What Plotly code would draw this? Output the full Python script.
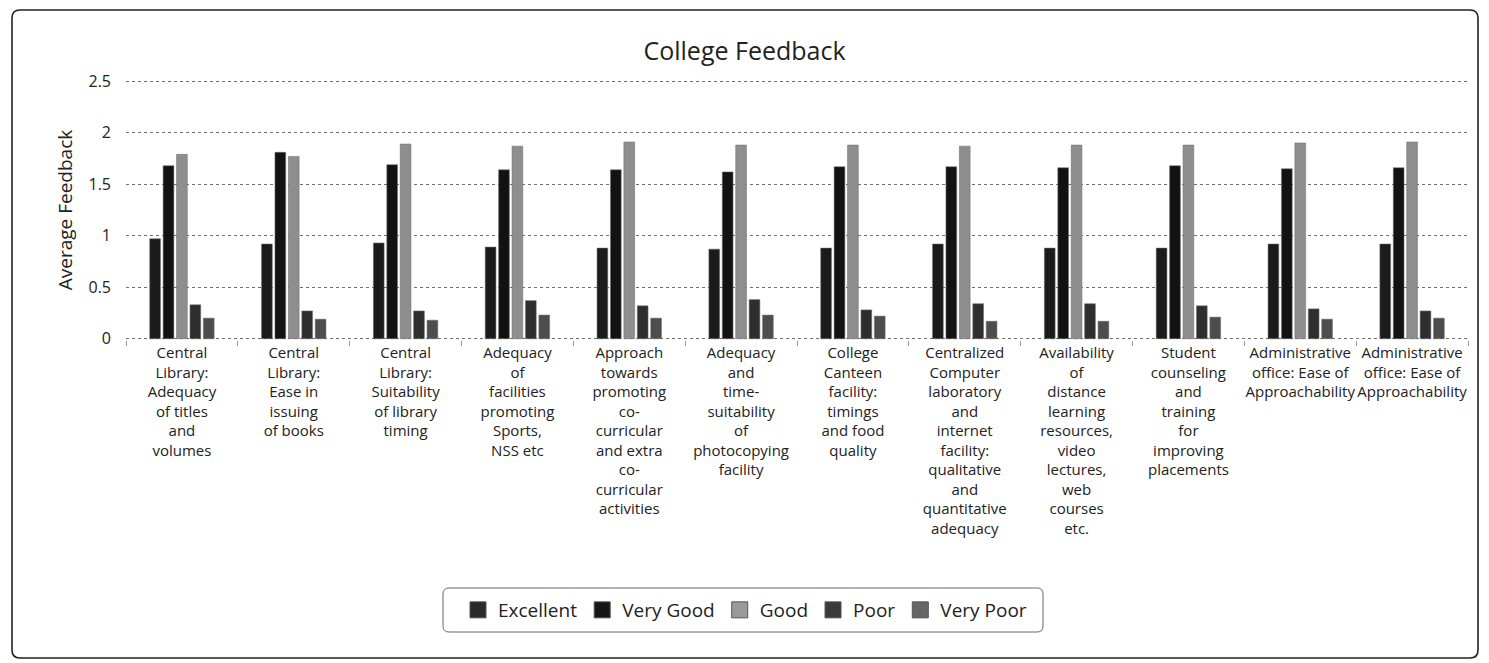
import plotly.graph_objects as go

# Survey items, as wrapped label lines under each group of bars
label_lines = [
    ["Central", "Library:", "Adequacy", "of titles", "and", "volumes"],
    ["Central", "Library:", "Ease in", "issuing", "of books"],
    ["Central", "Library:", "Suitability", "of library", "timing"],
    ["Adequacy", "of", "facilities", "promoting", "Sports,", "NSS etc"],
    ["Approach", "towards", "promoting", "co-", "curricular", "and extra", "co-",
     "curricular", "activities"],
    ["Adequacy", "and", "time-", "suitability", "of", "photocopying", "facility"],
    ["College", "Canteen", "facility:", "timings", "and food", "quality"],
    ["Centralized", "Computer", "laboratory", "and", "internet", "facility:",
     "qualitative", "and", "quantitative", "adequacy"],
    ["Availability", "of", "distance", "learning", "resources,", "video",
     "lectures,", "web", "courses", "etc."],
    ["Student", "counseling", "and", "training", "for", "improving", "placements"],
    ["Administrative", "office: Ease of", "Approachability"],
    ["Administrative", "office: Ease of", "Approachability"],
]
categories = [" ".join(lines) for lines in label_lines]

# Average feedback per rating class
excellent = [0.97, 0.92, 0.93, 0.89, 0.88, 0.87, 0.88, 0.92, 0.88, 0.88, 0.92, 0.92]
very_good = [1.68, 1.81, 1.69, 1.64, 1.64, 1.62, 1.67, 1.67, 1.66, 1.68, 1.65, 1.66]
good      = [1.79, 1.77, 1.89, 1.87, 1.91, 1.88, 1.88, 1.87, 1.88, 1.88, 1.90, 1.91]
poor      = [0.33, 0.27, 0.27, 0.37, 0.32, 0.38, 0.28, 0.34, 0.34, 0.32, 0.29, 0.27]
very_poor = [0.20, 0.19, 0.18, 0.23, 0.20, 0.23, 0.22, 0.17, 0.17, 0.21, 0.19, 0.20]

series_names = ["Excellent", "Very Good", "Good", "Poor", "Very Poor"]
series_values = [excellent, very_good, good, poor, very_poor]
series_colors = ["#1b1b1b", "#121212", "#8e8e8e", "#2e2e2e", "#4d4d4d"]
legend_colors = ["#2a2a2a", "#161616", "#9a9a9a", "#3a3a3a", "#666666"]

y_ticks = [0, 0.5, 1, 1.5, 2, 2.5]
y_tick_text = ["0", "0.5", "1", "1.5", "2", "2.5"]

FONT = "'Open Sans', Lato, sans-serif"
W, H = 1489, 663
L, R, T, B = 126, 21, 80, 323
PW, PH = W - L - R, H - T - B
PAD = 0.012  # small headroom so the 0 and 2.5 grid lines are drawn

x_pos = list(range(len(categories)))

fig = go.Figure()
for name, vals, col in zip(series_names, series_values, series_colors):
    fig.add_trace(go.Bar(
        name=name, x=x_pos, y=vals, customdata=categories,
        legendgroup=name, showlegend=False,
        marker=dict(color=col, line=dict(color="rgba(110,110,110,0.55)", width=1)),
        hovertemplate="%{customdata}<br>" + name + ": %{y}<extra></extra>",
    ))

# legend entries with larger square swatches
for name, col in zip(series_names, legend_colors):
    fig.add_trace(go.Scatter(
        name=name, x=[None], y=[None], mode="markers", legendgroup=name,
        marker=dict(symbol="square", size=16, color=col,
                    line=dict(color="#555555", width=1)),
        hoverinfo="skip",
    ))


def to_paper(px, py):
    return (px - L) / PW, (T + PH - py) / PH


def rounded_rect(x0, y0, x1, y1, r):
    def p(px, py):
        a, b = to_paper(px, py)
        return f"{a:.5f},{b:.5f}"
    pts = [
        "M" + p(x0 + r, y0),
        "L" + p(x1 - r, y0),
        "Q" + p(x1, y0) + " " + p(x1, y0 + r),
        "L" + p(x1, y1 - r),
        "Q" + p(x1, y1) + " " + p(x1 - r, y1),
        "L" + p(x0 + r, y1),
        "Q" + p(x0, y1) + " " + p(x0, y1 - r),
        "L" + p(x0, y0 + r),
        "Q" + p(x0, y0) + " " + p(x0 + r, y0),
    ]
    return " ".join(pts) + " Z"


shapes = [
    # outer chart frame
    dict(type="path", xref="paper", yref="paper", layer="below",
         path=rounded_rect(12, 10, 1478, 658, 8),
         line=dict(color="#222222", width=1.6)),
    # legend frame
    dict(type="path", xref="paper", yref="paper", layer="below",
         path=rounded_rect(443, 588, 1043, 632, 6),
         line=dict(color="#666666", width=1)),
]

fig.update_layout(
    width=W, height=H,
    margin=dict(l=L, r=R, t=T, b=B, autoexpand=False),
    paper_bgcolor="white", plot_bgcolor="white",
    font=dict(family=FONT, color="#222222", size=15),
    title=dict(text="College Feedback", x=0.5, xanchor="center",
               y=1 - 51 / H, yanchor="middle",
               font=dict(family=FONT, size=25, color="#222222")),
    barmode="group", bargap=0.4, bargroupgap=0.2,
    showlegend=True,
    legend=dict(orientation="h", x=(745 - L) / PW, xanchor="center",
                y=(T + PH - 610) / PH, yanchor="middle",
                bgcolor="rgba(0,0,0,0)", borderwidth=0,
                font=dict(family=FONT, size=19, color="#222222"),
                traceorder="normal"),
    shapes=shapes,
    xaxis=dict(
        range=[-0.5, len(categories) - 0.5],
        tickmode="array", tickvals=x_pos,
        ticktext=["<br>".join(lines) for lines in label_lines],
        tickangle=0, ticks="", showgrid=False, zeroline=False, showline=False,
        ticklabelstandoff=2,
        tickfont=dict(family=FONT, size=15, color="#222222"),
        minor=dict(tickmode="array",
                   tickvals=[i - 0.5 for i in range(len(categories) + 1)],
                   ticks="outside", ticklen=5, tickcolor="#999999", showgrid=False),
        fixedrange=True,
    ),
    yaxis=dict(
        range=[-PAD, 2.5 + PAD], tickmode="array", tickvals=y_ticks, ticktext=y_tick_text,
        showgrid=True, gridcolor="#6f6f6f", griddash="dot", gridwidth=1,
        zeroline=False, showline=False, ticks="",
        ticklabelstandoff=14,
        tickfont=dict(family=FONT, size=16, color="#222222"),
        title=dict(text="Average Feedback", standoff=10,
                   font=dict(family=FONT, size=19, color="#222222")),
        fixedrange=True,
    ),
)

fig.write_html("out.html")
